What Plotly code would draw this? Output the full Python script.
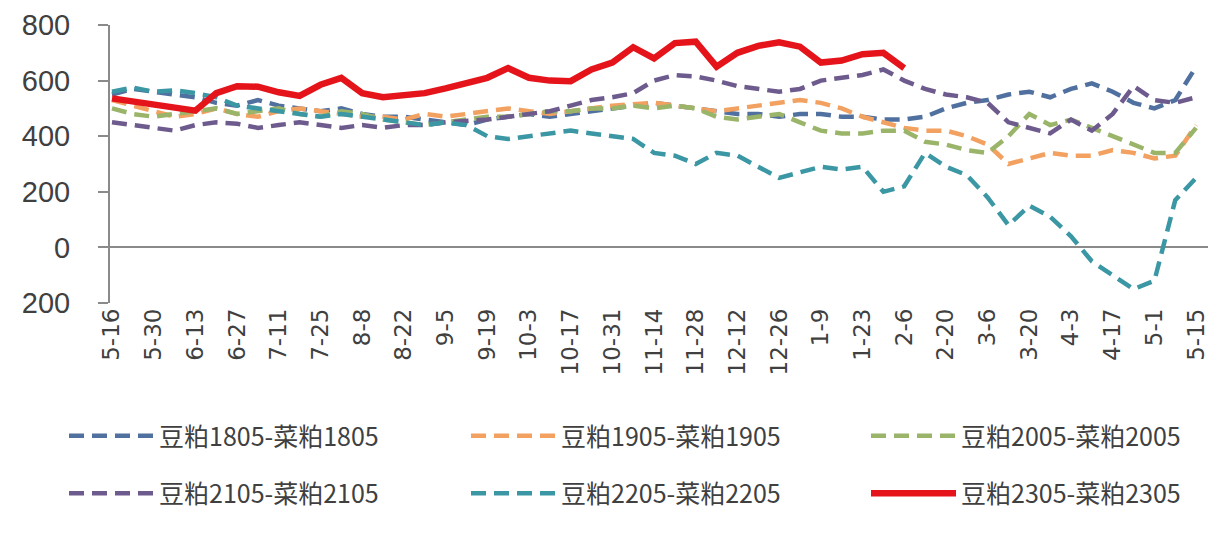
import pandas as pd
import plotly.graph_objects as go

# weekly observation dates (every 7 days from 5-16 to 5-15 of next year)
dates = pd.date_range("2017-05-16", periods=53, freq="7D")

tick_labels = ["5-16", "5-30", "6-13", "6-27", "7-11", "7-25", "8-8", "8-22", "9-5",
               "9-19", "10-3", "10-17", "10-31", "11-14", "11-28", "12-12", "12-26",
               "1-9", "1-23", "2-6", "2-20", "3-6", "3-20", "4-3", "4-17", "5-1", "5-15"]
tick_dates = pd.date_range("2017-05-16", periods=27, freq="14D")

s1805 = [550, 570, 560, 550, 540, 520, 510, 530, 510, 500, 490, 500, 480, 470, 470, 460,
         450, 440, 460, 470, 480, 470, 480, 490, 500, 510, 520, 510, 500, 490, 480, 480,
         470, 480, 480, 470, 470, 460, 460, 470, 500, 520, 530, 550, 560, 540, 570, 590,
         560, 520, 500, 530, 650]
s1905 = [530, 510, 490, 470, 480, 500, 480, 470, 490, 500, 490, 480, 470, 470, 460, 480,
         470, 480, 490, 500, 490, 480, 490, 500, 510, 515, 520, 510, 500, 490, 500, 510,
         520, 530, 520, 500, 470, 450, 430, 420, 420, 400, 370, 300, 320, 340, 330, 330,
         350, 340, 320, 330, 440]
s2005 = [500, 480, 470, 480, 490, 500, 480, 490, 500, 480, 470, 490, 480, 460, 450, 440,
         450, 460, 470, 470, 480, 490, 490, 500, 500, 510, 500, 510, 500, 470, 460, 470,
         480, 450, 420, 410, 410, 420, 420, 380, 370, 350, 340, 400, 480, 440, 460, 430,
         400, 370, 340, 340, 430]
s2105 = [450, 440, 430, 420, 440, 450, 445, 430, 440, 450, 440, 430, 440, 430, 440, 440,
         450, 455, 460, 470, 480, 490, 510, 530, 540, 555, 600, 620, 615, 600, 580, 570,
         560, 570, 600, 610, 620, 640, 600, 570, 550, 540, 520, 450, 430, 410, 460, 420,
         480, 580, 530, 520, 540]
s2205 = [560, 575, 560, 565, 555, 540, 510, 500, 490, 480, 470, 480, 470, 460, 450, 440,
         450, 440, 400, 390, 400, 410, 420, 410, 400, 390, 340, 330, 300, 340, 330, 290,
         250, 270, 290, 280, 290, 200, 220, 340, 290, 260, 180, 80, 150, 110, 40, -50,
         -100, -150, -120, 170, 250]
s2305 = [536, 525, 515, 500, 492, 555, 580, 578, 558, 545, 585, 610, 555, 540, 550, 555,
         572, 590, 610, 645, 610, 600, 598, 640, 665, 720, 680, 735, 740, 650, 700, 725,
         738, 722, 665, 672, 695, 700, 645]

series = [
    ("豆粕1805-菜粕1805", s1805, "#50709f", "dash"),
    ("豆粕1905-菜粕1905", s1905, "#f2a160", "dash"),
    ("豆粕2005-菜粕2005", s2005, "#9ab56a", "dash"),
    ("豆粕2105-菜粕2105", s2105, "#6e5b8e", "dash"),
    ("豆粕2205-菜粕2205", s2205, "#3b97a4", "dash"),
    ("豆粕2305-菜粕2305", s2305, "#e5141b", "solid"),
]
legend_ids = ["legend", "legend2", "legend3"]

fig = go.Figure()
for i, (name, vals, color, dash) in enumerate(series):
    fig.add_trace(go.Scatter(
        x=dates[:len(vals)], y=vals, mode="lines", name=name,
        legend=legend_ids[i % 3], legendgroup=name,
        line=dict(color=color, width=6.5 if dash == "solid" else 4.5,
                  dash="solid" if dash == "solid" else "15px,8px"),
    ))

PL, PW, PT, PH = 110, 1098, 25, 278
legend_px = [64, 466, 866]
leg_common = dict(
    orientation="v", xref="paper", yref="paper",
    y=(PT + PH - 413) / PH, xanchor="left", yanchor="top",
    itemwidth=85, tracegroupgap=22, bgcolor="rgba(0,0,0,0)",
    font=dict(size=25, family="Noto Sans CJK SC", color="#404040"),
)
fig.update_layout(
    width=1223, height=534,
    margin=dict(l=PL, r=1223 - PL - PW, t=PT, b=534 - PT - PH, autoexpand=False),
    paper_bgcolor="white", plot_bgcolor="white",
    font=dict(family="DejaVu Sans, Noto Sans CJK SC", color="#404040"),
    showlegend=True,
    legend=dict(x=(legend_px[0] - PL) / PW, **leg_common),
    legend2=dict(x=(legend_px[1] - PL) / PW, **leg_common),
    legend3=dict(x=(legend_px[2] - PL) / PW, **leg_common),
    xaxis=dict(
        range=["2017-05-15 08:00", "2018-05-19"],
        tickmode="array", tickvals=list(tick_dates), ticktext=tick_labels,
        tickangle=-90, tickfont=dict(size=23, family="DejaVu Sans", color="#404040"),
        showgrid=False, zeroline=False, showline=False, ticks="",
    ),
    yaxis=dict(
        range=[-200, 800],
        tickmode="array", tickvals=[-200, 0, 200, 400, 600, 800],
        ticktext=["200", "0", "200", "400", "600", "800"],
        tickfont=dict(size=29, family="Liberation Sans", color="#404040"),
        showgrid=False, showline=True, linecolor="#8a8a8a", linewidth=2,
        ticks="outside", ticklen=10, tickcolor="#8a8a8a", tickwidth=2,
        ticklabelstandoff=22,
        zeroline=True, zerolinecolor="#8a8a8a", zerolinewidth=2,
    ),
)

fig.write_html("out.html")
